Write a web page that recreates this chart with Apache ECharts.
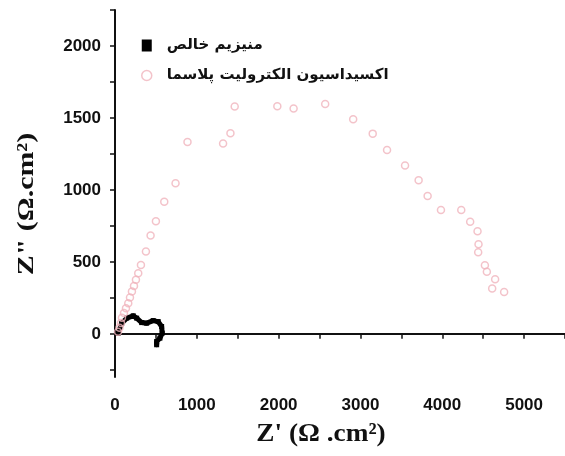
<!DOCTYPE html>
<html>
<head>
<meta charset="utf-8">
<script src="https://cdn.jsdelivr.net/npm/echarts@6/dist/echarts.min.js"></script>
<style>
html,body{margin:0;padding:0;background:#fff;}
#chart{width:565px;height:456px;}
</style>
</head>
<body>
<div id="chart"></div>
<script>
// Series names (legend)
const seriesNames = ['منیزیم خالص', 'اکسیداسیون الکترولیت پلاسما'];

// Pure Mg (black) – Z' and Z'' values
const mgZre = [40, 82, 143, 223, 265, 326, 387, 467, 528, 570, 577, 549, 509, 509];
const mgZim = [5, 74, 109, 125, 109, 78, 74, 92, 85, 51, 5, -30, -53, -76];

// PEO coating (pink circles) – Z' and Z'' values
const peoZre = [37, 55, 73, 85, 110, 134, 162, 183, 207, 232, 256, 284, 317, 378, 435, 500, 602, 740, 886,
  1321, 1411, 1463, 1984, 2183, 2569, 2911, 3150, 3325, 3545, 3711, 3821, 3984, 4232, 4341, 4431, 4443,
  4439, 4521, 4545, 4646, 4610, 4756];
const peoZim = [14, 42, 76, 111, 144, 178, 213, 252, 294, 333, 375, 421, 479, 572, 683, 782, 917, 1046, 1333,
  1322, 1394, 1579, 1581, 1565, 1597, 1491, 1391, 1278, 1169, 1067, 958, 861, 861, 778, 713, 623,
  567, 477, 431, 380, 315, 290];

// Axis ticks and labels
const xTickValues = [0, 500, 1000, 1500, 2000, 2500, 3000, 3500, 4000, 4500, 5000, 5500];
const xLabelValues = [0, 1000, 2000, 3000, 4000, 5000];
const yTickValues = [-250, 0, 250, 500, 750, 1000, 1250, 1500, 1750, 2000, 2250];
const yLabelValues = [0, 500, 1000, 1500, 2000];

const xTitle = "Z' (Ω .cm²)";
const yTitle = 'Z" (Ω.cm²)';

const zip = (a, b) => a.map((v, i) => [v, b[i]]);

const chart = echarts.init(document.getElementById('chart'));
const labelStyle = {
  color: '#111', fontWeight: 'bold', fontSize: 17, fontFamily: 'Liberation Sans, Arial, sans-serif',
  formatter: v => String(v)
};
const titleFont = 'Liberation Serif, Times New Roman, serif';
chart.setOption({
  animation: false,
  backgroundColor: '#fff',
  grid: { left: 115, top: 10, width: 451, height: 367, containLabel: false },
  legend: {
    orient: 'vertical', left: 141, top: 38, padding: 0, itemGap: 15,
    itemWidth: 10, itemHeight: 12,
    textStyle: { fontFamily: 'DejaVu Sans', fontSize: 15, fontWeight: 'bold', color: '#111', lineHeight: 12, padding: [0, 0, 0, 10] },
    data: [
      { name: seriesNames[0], icon: 'rect', itemStyle: { color: '#000' } },
      { name: seriesNames[1], icon: 'circle', itemStyle: { color: '#fff', borderColor: '#f0b4bd', borderWidth: 1.5 } }
    ]
  },
  xAxis: {
    type: 'value', min: 0, max: 5500, interval: 500,
    axisLine: { show: true, lineStyle: { color: '#111', width: 2 } },
    axisTick: { show: true, length: 5, lineStyle: { color: '#111', width: 1.5 }, customValues: xTickValues },
    axisLabel: Object.assign({ margin: 20, customValues: xLabelValues }, labelStyle),
    splitLine: { show: false }
  },
  yAxis: {
    type: 'value', min: -300, max: 2250,
    axisLine: { show: true, onZero: false, lineStyle: { color: '#111', width: 2 } },
    axisTick: { show: true, length: 5, lineStyle: { color: '#111', width: 1.5 }, customValues: yTickValues },
    axisLabel: Object.assign({ margin: 14, customValues: yLabelValues }, labelStyle),
    splitLine: { show: false }
  },
  graphic: [
    {
      type: 'text', x: 321, y: 434, scaleX: 1.05,
      style: { text: xTitle, font: 'bold 26px ' + titleFont, fill: '#111', align: 'center', verticalAlign: 'middle' }
    },
    {
      type: 'text', x: 27, y: 204, rotation: Math.PI / 2, scaleX: 1.3,
      style: { text: yTitle, font: 'bold 23px ' + titleFont, fill: '#111', align: 'center', verticalAlign: 'middle' }
    }
  ],
  series: [
    {
      name: seriesNames[0], type: 'line', data: zip(mgZre, mgZim),
      symbol: 'rect', symbolSize: 5, showSymbol: true,
      itemStyle: { color: '#000' },
      lineStyle: { color: '#000', width: 5, join: 'round', cap: 'round' },
      z: 2
    },
    {
      name: seriesNames[1], type: 'scatter', data: zip(peoZre, peoZim),
      symbol: 'circle', symbolSize: 7,
      itemStyle: { color: 'rgba(255,255,255,0)', borderColor: '#f0b4bd', borderWidth: 1.5 },
      z: 3
    }
  ]
});
</script>
</body>
</html>
